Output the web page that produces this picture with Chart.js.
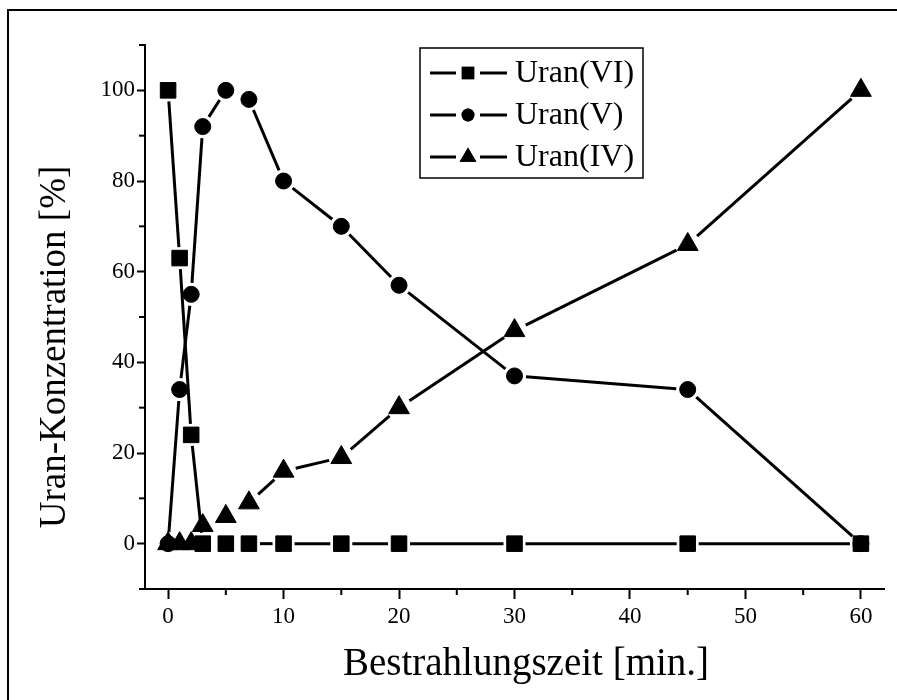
<!DOCTYPE html>
<html>
<head>
<meta charset="utf-8">
<script src="https://cdn.jsdelivr.net/npm/chart.js@4.4.0/dist/chart.umd.min.js"></script>
<style>
  body { margin: 0; background: #fff; }
  #wrap { width: 897px; height: 700px; position: relative; }
</style>
</head>
<body>
<div id="wrap"><canvas id="plot-data" width="897" height="700"></canvas></div>
<script>
// Messpunkte
const zeit = [0, 1, 2, 3, 5, 7, 10, 15, 20, 30, 45, 60];
const uranVI = [100, 63, 24, 0, 0, 0, 0, 0, 0, 0, 0, 0];
const uranV = [0, 34, 55, 92, 100, 98, 80, 70, 57, 37, 34, 0];
const uranIV = [0, 0, 0, 4, 6, 9, 16, 19, 30, 47, 66, 100];

const serien = ['Uran(VI)', 'Uran(V)', 'Uran(IV)'];
const xTicks = [0, 10, 20, 30, 40, 50, 60];
const xMinor = [5, 15, 25, 35, 45, 55];
const yTicks = [0, 20, 40, 60, 80, 100];
const yMinor = [-10, 10, 30, 50, 70, 90, 110];

const FONT = "'Liberation Serif', 'Times New Roman', serif";

function toPoints(ys) {
    let pts = [];
    for (let i = 0; i < zeit.length; i++) {
        pts.push({ x: zeit[i], y: ys[i] });
    }
    return pts;
}

// lines between markers, with a gap round each marker (Origin style)
const gapLines = {
    id: 'gapLines',
    beforeDatasetsDraw(chart) {
        const ctx = chart.ctx;
        ctx.save();
        ctx.strokeStyle = '#000';
        ctx.lineWidth = 3;
        chart.data.datasets.forEach((ds, di) => {
            const pts = chart.getDatasetMeta(di).data;
            const gap = ds.gap;
            for (let i = 1; i < pts.length; i++) {
                const a = pts[i - 1], b = pts[i];
                const dx = b.x - a.x, dy = b.y - a.y;
                const len = Math.sqrt(dx * dx + dy * dy);
                if (len <= 2 * gap + 2) continue;
                const ux = dx / len, uy = dy / len;
                ctx.beginPath();
                ctx.moveTo(a.x + ux * gap, a.y + uy * gap);
                ctx.lineTo(b.x - ux * gap, b.y - uy * gap);
                ctx.stroke();
            }
        });
        ctx.restore();
    },
    afterDraw(chart) {
        const ctx = chart.ctx;
        const xs = chart.scales.x, ys = chart.scales.y;
        ctx.save();
        ctx.strokeStyle = '#000';
        ctx.lineWidth = 2;
        // minor ticks
        xMinor.forEach(v => {
            const px = xs.getPixelForValue(v);
            ctx.beginPath();
            ctx.moveTo(px, ys.bottom);
            ctx.lineTo(px, ys.bottom + 6);
            ctx.stroke();
        });
        yMinor.forEach(v => {
            const py = ys.getPixelForValue(v);
            ctx.beginPath();
            ctx.moveTo(xs.left, py);
            ctx.lineTo(xs.left - 6, py);
            ctx.stroke();
        });
        // outer frame (top and left only)
        ctx.beginPath();
        ctx.moveTo(8, 700);
        ctx.lineTo(8, 10);
        ctx.lineTo(897, 10);
        ctx.stroke();

        // axis titles
        ctx.fillStyle = '#000';
        ctx.textAlign = 'center';
        ctx.textBaseline = 'middle';
        ctx.font = '39px ' + FONT;
        ctx.fillText('Bestrahlungszeit [min.]', 526, 665);
        ctx.font = '37px ' + FONT;
        ctx.translate(55, 347);
        ctx.rotate(-Math.PI / 2);
        ctx.fillText('Uran-Konzentration [%]', 0, 0);
        ctx.restore();

        // legend
        ctx.save();
        ctx.strokeStyle = '#000';
        ctx.lineWidth = 1.5;
        ctx.strokeRect(420, 48, 223, 130);
        const rows = [73, 115, 157];
        chart.data.datasets.forEach((ds, di) => {
            const y = rows[di];
            ctx.lineWidth = 3;
            ctx.beginPath();
            ctx.moveTo(430, y); ctx.lineTo(456, y);
            ctx.moveTo(480, y); ctx.lineTo(507, y);
            ctx.stroke();
            ctx.fillStyle = '#000';
            Chart.helpers.drawPoint(ctx, {
                pointStyle: ds.pointStyle,
                radius: ds.pointRadius * 0.8,
                rotation: 0,
                borderWidth: 0
            }, 468, y);
            ctx.fill();
            ctx.font = '32px ' + FONT;
            ctx.textAlign = 'left';
            ctx.textBaseline = 'middle';
            ctx.fillText(ds.label, 515, y + 1);
        });
        ctx.restore();
    }
};

var ctx = document.getElementById('plot-data').getContext('2d');
var graph_data = new Chart(ctx, {
    type: 'scatter',
    data: {
        datasets: [{
            label: serien[0],
            data: toPoints(uranVI),
            pointStyle: 'rect',
            pointRadius: 11,
            gap: 11,
            backgroundColor: '#000',
            borderColor: '#000',
            showLine: false
        }, {
            label: serien[1],
            data: toPoints(uranV),
            pointStyle: 'circle',
            pointRadius: 8,
            gap: 11.5,
            backgroundColor: '#000',
            borderColor: '#000',
            showLine: false
        }, {
            label: serien[2],
            data: toPoints(uranIV),
            pointStyle: 'triangle',
            pointRadius: 12,
            gap: 12.5,
            backgroundColor: '#000',
            borderColor: '#000',
            showLine: false
        }]
    },
    options: {
        responsive: false,
        animation: false,
        events: [],
        layout: {
            padding: { top: 45, right: 9, bottom: 0, left: 0 }
        },
        plugins: {
            legend: { display: false },
            tooltip: { enabled: false }
        },
        scales: {
            x: {
                type: 'linear',
                min: -2,
                max: 62,
                afterBuildTicks: function(scale) {
                    scale.ticks = xTicks.map(v => ({ value: v }));
                },
                afterFit: function(scale) {
                    scale.height = 111;
                },
                grid: {
                    drawOnChartArea: false,
                    tickLength: 10,
                    tickWidth: 2,
                    color: '#000'
                },
                border: { display: true, width: 2, color: '#000' },
                ticks: {
                    color: '#000',
                    padding: 4,
                    maxRotation: 0,
                    font: { family: FONT, size: 23 }
                }
            },
            y: {
                type: 'linear',
                min: -10,
                max: 110,
                afterBuildTicks: function(scale) {
                    scale.ticks = yTicks.map(v => ({ value: v }));
                },
                afterFit: function(scale) {
                    scale.width = 145;
                },
                grid: {
                    drawOnChartArea: false,
                    tickLength: 8,
                    tickWidth: 2,
                    color: '#000'
                },
                border: { display: true, width: 2, color: '#000' },
                ticks: {
                    color: '#000',
                    padding: 2,
                    font: { family: FONT, size: 23 }
                }
            }
        }
    },
    plugins: [gapLines]
});
</script>
</body>
</html>
